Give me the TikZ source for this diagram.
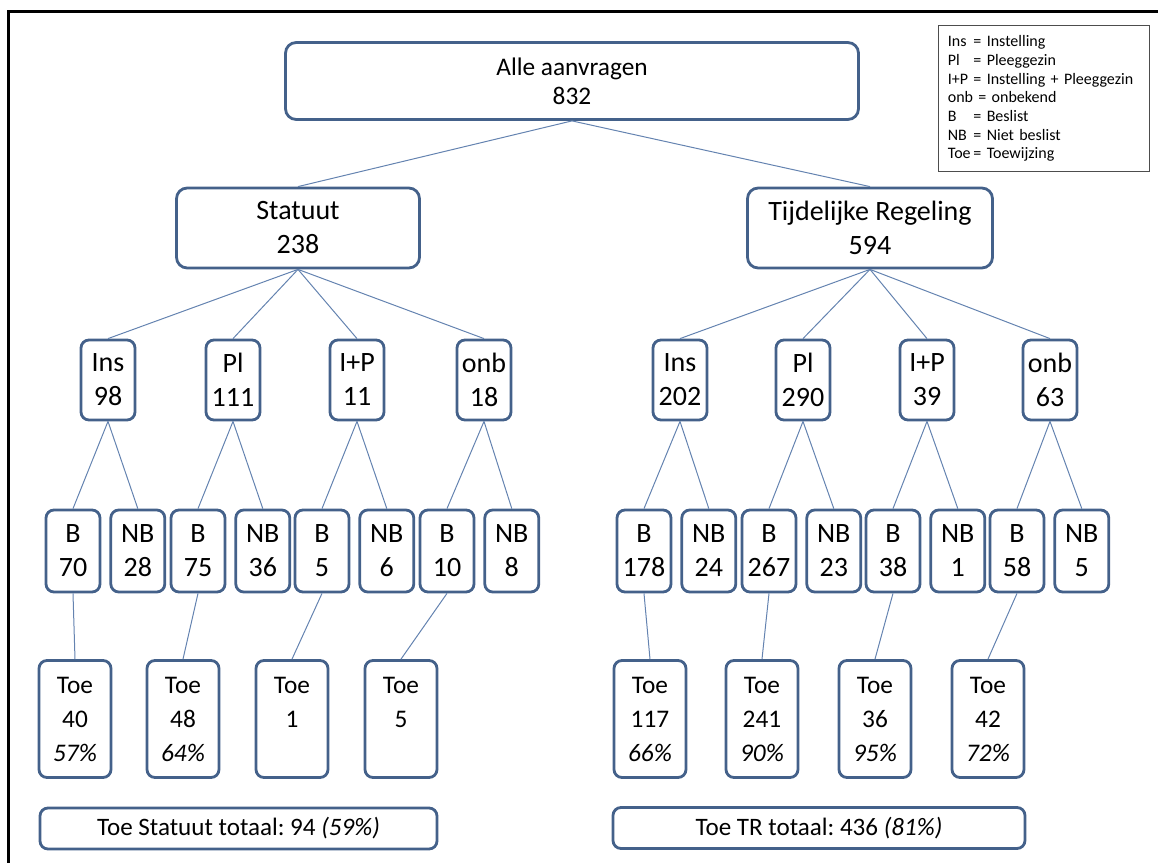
\documentclass[tikz,border=0pt]{standalone}
\usepackage{fontspec}
\setmainfont{Carlito}
\usetikzlibrary{positioning}
\definecolor{TreeEdge}{HTML}{44618A}
\definecolor{TreeLink}{HTML}{6483B0}
\definecolor{LegendLine}{HTML}{4D4D4D}
\newcommand{\legabbr}[1]{\makebox[1.6em][l]{#1}}
\frenchspacing

\begin{document}
\begin{tikzpicture}[
  x=0.75pt, y=-0.75pt,
  node distance=6pt and 6pt,
  box/.style={draw=TreeEdge, line width=2.1pt, fill=white, rounded corners=#1, align=center, inner sep=0pt, font=\fontsize{21}{25.5}\selectfont},
  box/.default=6pt,
  head/.style={box=8pt, minimum height=60pt},
  cat/.style={box, minimum width=40.5pt, minimum height=60pt},
  dec/.style={box, minimum width=40.5pt, minimum height=61.5pt},
  toe/.style={box, minimum width=54pt, minimum height=87.75pt, font=\fontsize{19}{25.5}\selectfont},
  total/.style={box, minimum height=30.75pt, font=\fontsize{18.8}{22}\selectfont},
  link/.style={draw=TreeLink, line width=0.75pt}
]
\useasboundingbox (0,0) rectangle (1158,863);

% frame
\draw[line width=2.25pt] (8,863) -- (8,12) -- (1158,12);

% top levels
\node[head, minimum width=429.75pt, minimum height=57.75pt, font=\fontsize{19}{22}\selectfont] (all) at (572,81) {Alle aanvragen\\832};
\node[head, minimum width=182.25pt] (stat) at (298,228) {Statuut\\238};
\node[head, minimum width=183.75pt] (tr) at (870,228) {Tijdelijke Regeling\\594};

% placement type
\node[cat] (sins) at (108,380) {Ins\\98};
\node[cat] (spl) at (233,380) {Pl\\111};
\node[cat] (sip) at (357,380) {I+P\\11};
\node[cat] (sonb) at (484,380) {onb\\18};
\node[cat] (tins) at (680,380) {Ins\\202};
\node[cat] (tpl) at (803,380) {Pl\\290};
\node[cat] (tip) at (927,380) {I+P\\39};
\node[cat] (tonb) at (1050,380) {onb\\63};

% decided / not decided
\node[dec] (sinsb) at (73,551) {B\\70};
\node[dec, right=of sinsb] (sinsn) {NB\\28};
\node[dec] (splb) at (198,551) {B\\75};
\node[dec, right=of splb] (spln) {NB\\36};
\node[dec] (sipb) at (322,551) {B\\5};
\node[dec, right=of sipb] (sipn) {NB\\6};
\node[dec] (sonbb) at (447,551) {B\\10};
\node[dec, right=of sonbb] (sonbn) {NB\\8};
\node[dec] (tinsb) at (644,551) {B\\178};
\node[dec, right=of tinsb] (tinsn) {NB\\24};
\node[dec] (tplb) at (769,551) {B\\267};
\node[dec, right=of tplb] (tpln) {NB\\23};
\node[dec] (tipb) at (893,551) {B\\38};
\node[dec, right=of tipb] (tipn) {NB\\1};
\node[dec] (tonbb) at (1017,551) {B\\58};
\node[dec, right=of tonbb] (tonbn) {NB\\5};

% allocations
\node[toe] (sinst) at (75,719) {Toe\\40\\\textit{57\%}};
\node[toe] (splt) at (183,719) {Toe\\48\\\textit{64\%}};
\node[toe] (sipt) at (292,719) {Toe\\1\\\phantom{1}};
\node[toe] (sonbt) at (401,719) {Toe\\5\\\phantom{5}};
\node[toe] (tinst) at (650,719) {Toe\\117\\\textit{66\%}};
\node[toe] (tplt) at (762,719) {Toe\\241\\\textit{90\%}};
\node[toe] (tipt) at (875,719) {Toe\\36\\\textit{95\%}};
\node[toe] (tonbt) at (988,719) {Toe\\42\\\textit{72\%}};

% totals
\node[total, minimum width=297.75pt] (stot) at (238.5,828.5) {Toe Statuut totaal: 94 \textit{(59\%)}};
\node[total, minimum width=309pt] (ttot) at (819,828) {Toe TR totaal: 436 \textit{(81\%)}};

% legend
\node[draw=LegendLine, line width=0.8pt, anchor=north west, minimum height=109.5pt, text width=144pt, inner sep=7pt, align=left, font=\fontsize{12}{14}\selectfont] (legend) at (938,25)
  {\legabbr{Ins}= Instelling\\
   \legabbr{Pl}= Pleeggezin\\
   \legabbr{I+P}= Instelling + Pleeggezin\\
   onb = onbekend\\
   \legabbr{B}= Beslist\\
   \legabbr{NB}= Niet beslist\\
   \legabbr{Toe}= Toewijzing};

% links
\draw[link] (all.south) -- (stat.north);
\draw[link] (all.south) -- (tr.north);
\draw[link] (stat.south) -- (sins.north);
\draw[link] (stat.south) -- (spl.north);
\draw[link] (stat.south) -- (sip.north);
\draw[link] (stat.south) -- (sonb.north);
\draw[link] (tr.south) -- (tins.north);
\draw[link] (tr.south) -- (tpl.north);
\draw[link] (tr.south) -- (tip.north);
\draw[link] (tr.south) -- (tonb.north);
\draw[link] (sins.south) -- (sinsb.north);
\draw[link] (sins.south) -- (sinsn.north);
\draw[link] (spl.south) -- (splb.north);
\draw[link] (spl.south) -- (spln.north);
\draw[link] (sip.south) -- (sipb.north);
\draw[link] (sip.south) -- (sipn.north);
\draw[link] (sonb.south) -- (sonbb.north);
\draw[link] (sonb.south) -- (sonbn.north);
\draw[link] (tins.south) -- (tinsb.north);
\draw[link] (tins.south) -- (tinsn.north);
\draw[link] (tpl.south) -- (tplb.north);
\draw[link] (tpl.south) -- (tpln.north);
\draw[link] (tip.south) -- (tipb.north);
\draw[link] (tip.south) -- (tipn.north);
\draw[link] (tonb.south) -- (tonbb.north);
\draw[link] (tonb.south) -- (tonbn.north);
\draw[link] (sinsb.south) -- (sinst.north);
\draw[link] (splb.south) -- (splt.north);
\draw[link] (sipb.south) -- (sipt.north);
\draw[link] (sonbb.south) -- (sonbt.north);
\draw[link] (tinsb.south) -- (tinst.north);
\draw[link] (tplb.south) -- (tplt.north);
\draw[link] (tipb.south) -- (tipt.north);
\draw[link] (tonbb.south) -- (tonbt.north);
\end{tikzpicture}
\end{document}
